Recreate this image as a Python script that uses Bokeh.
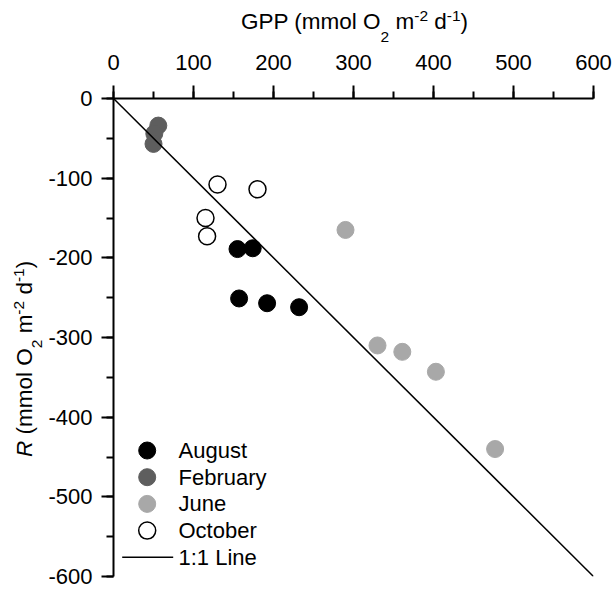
from bokeh.plotting import figure
from bokeh.models import Range1d, SingleIntervalTicker, PrintfTickFormatter, Div
from bokeh.layouts import row, column
from bokeh.core.properties import value
from bokeh.embed import file_html
from bokeh.resources import INLINE

# ---------------- data ----------------
aug_gpp = [155, 174, 157, 192, 232]
aug_r = [-189, -188, -251, -257, -262]
feb_gpp = [56, 51, 50]
feb_r = [-34, -44, -57]
jun_gpp = [290, 330, 361, 403, 477]
jun_r = [-165, -310, -318, -343, -440]
oct_gpp = [130, 180, 115, 117]
oct_r = [-108, -114, -150, -173]
line_gpp = [0, 600]
line_r = [0, -600]
legend_labels = ["August", "February", "June", "October", "1:1 Line"]
tick_interval = 100

FONT = "Liberation Sans"
W, H = 614, 589
YLAB_W = 45          # width of the left title strip
TITLE_H = 44         # height of the top title strip
LEFT, TOP, RIGHT = 113, 98, 21   # frame position in page pixels
FW, FH = 480, 478
PW, PH = W - YLAB_W, H - TITLE_H
SX = FW / 600.0
SY = FH / 600.0
DIV_DY = 11          # vertical offset of Div content observed in the browser

def px2x(px):
    return (px - LEFT) / SX

def py2y(py):
    return -(py - TOP) / SY

p = figure(width=PW, height=PH, output_backend="svg", toolbar_location=None,
           x_range=Range1d(0, 600), y_range=Range1d(-600, 0),
           x_axis_location="above", y_axis_location="left",
           min_border_left=LEFT - YLAB_W, min_border_top=TOP - TITLE_H,
           min_border_right=RIGHT, min_border_bottom=PH - (TOP - TITLE_H) - FH,
           margin=0)
p.outline_line_color = None
p.xgrid.visible = False
p.ygrid.visible = False
p.background_fill_color = "white"
p.border_fill_color = "white"

for ax, std, mt in ((p.xaxis[0], 16, 13), (p.yaxis[0], 9, 12)):
    ax.ticker = SingleIntervalTicker(interval=tick_interval, num_minor_ticks=2)
    ax.formatter = PrintfTickFormatter(format="%d")
    ax.axis_line_width = 2
    ax.axis_line_color = "black"
    ax.major_tick_line_width = 2
    ax.minor_tick_line_width = 2
    ax.major_tick_line_color = "black"
    ax.minor_tick_line_color = "black"
    ax.major_tick_out = mt
    ax.major_tick_in = 0
    ax.minor_tick_out = 7
    ax.minor_tick_in = 0
    ax.major_label_text_font = FONT
    ax.major_label_text_font_size = "22px"
    ax.major_label_text_color = "black"
    ax.major_label_standoff = std

MS = 17
p.scatter(aug_gpp, aug_r, size=MS, fill_color="black", line_color="black", line_width=1)
p.scatter(feb_gpp, feb_r, size=MS, fill_color="#5e5e5e", line_color="#5e5e5e", line_width=1)
p.scatter(jun_gpp, jun_r, size=MS, fill_color="#a8a8a8", line_color="#a8a8a8", line_width=1)
p.scatter(oct_gpp, oct_r, size=MS, fill_color="white", line_color="black", line_width=1.5)
p.line(line_gpp, line_r, line_color="black", line_width=1.5)

# ---------------- manual legend ----------------
leg_x = px2x(146.7)
leg_ys = [py2y(450 + i * 26.7) for i in range(5)]
p.scatter([leg_x], [leg_ys[0]], size=MS, fill_color="black", line_color="black")
p.scatter([leg_x], [leg_ys[1]], size=MS, fill_color="#5e5e5e", line_color="#5e5e5e")
p.scatter([leg_x], [leg_ys[2]], size=MS, fill_color="#a8a8a8", line_color="#a8a8a8")
p.scatter([leg_x], [leg_ys[3]], size=MS, fill_color="white", line_color="black", line_width=1.5)
p.line([px2x(121.7), px2x(172.7)], [leg_ys[4], leg_ys[4]], line_color="black", line_width=1.5)
p.text([px2x(178)] * 5, leg_ys, text=legend_labels, text_font=value(FONT),
       text_font_size="22px", text_baseline="middle", text_align="left", text_color="black")

# ---------------- axis titles (HTML, with sub/superscripts) ----------------
MAIN, SMALL = 22.5, 15.5
LH = 26.0
ASC, DESC = 0.905, 0.212
BASE_IN_LINE = (LH - (ASC + DESC) * MAIN) / 2 + ASC * MAIN   # baseline offset inside line box

def title_html(first, italic_first, sub_dy, sup_dy):
    f = f'<i>{first}</i>' if italic_first else first
    sub = f'<span style="font-size:{SMALL}px;vertical-align:-{sub_dy}px;line-height:0">'
    sup = f'<span style="font-size:{SMALL}px;vertical-align:{sup_dy}px;line-height:0">'
    return (f'{f} (mmol O{sub}2</span> m{sup}-2</span> d{sup}-1</span>)')

common = (f"font-family:'{FONT}';font-size:{MAIN}px;line-height:{LH}px;"
          "white-space:nowrap;color:black;margin:0;padding:0;")

# top title: baseline at y=29, starting at x=241 (page pixels)
t_left = 241 - YLAB_W
t_top = 29 - BASE_IN_LINE - DIV_DY
title_div = Div(
    text=(f'<div style="position:relative;width:0;height:0;">'
          f'<div style="position:absolute;left:{t_left}px;top:{t_top:.1f}px;{common}">'
          f'{title_html("GPP", False, 13, 8)}</div></div>'),
    width=PW, height=TITLE_H, margin=0)

# left title: rotated, baseline at x=33, starting at y=456 (page pixels)
y_left = 33 - BASE_IN_LINE
y_top = 456 - DIV_DY
ylab_div = Div(
    text=(f'<div style="position:relative;width:0;height:0;">'
          f'<div style="position:absolute;left:{y_left:.1f}px;top:{y_top}px;'
          f'transform-origin:0 0;transform:rotate(-90deg);{common}">'
          f'{title_html("R", True, 10, 8)}</div></div>'),
    width=YLAB_W, height=H, margin=0)

layout = row(ylab_div, column(title_div, p, spacing=0, margin=0), spacing=0, margin=0)

open("out.html", "w").write(file_html(layout, INLINE))
